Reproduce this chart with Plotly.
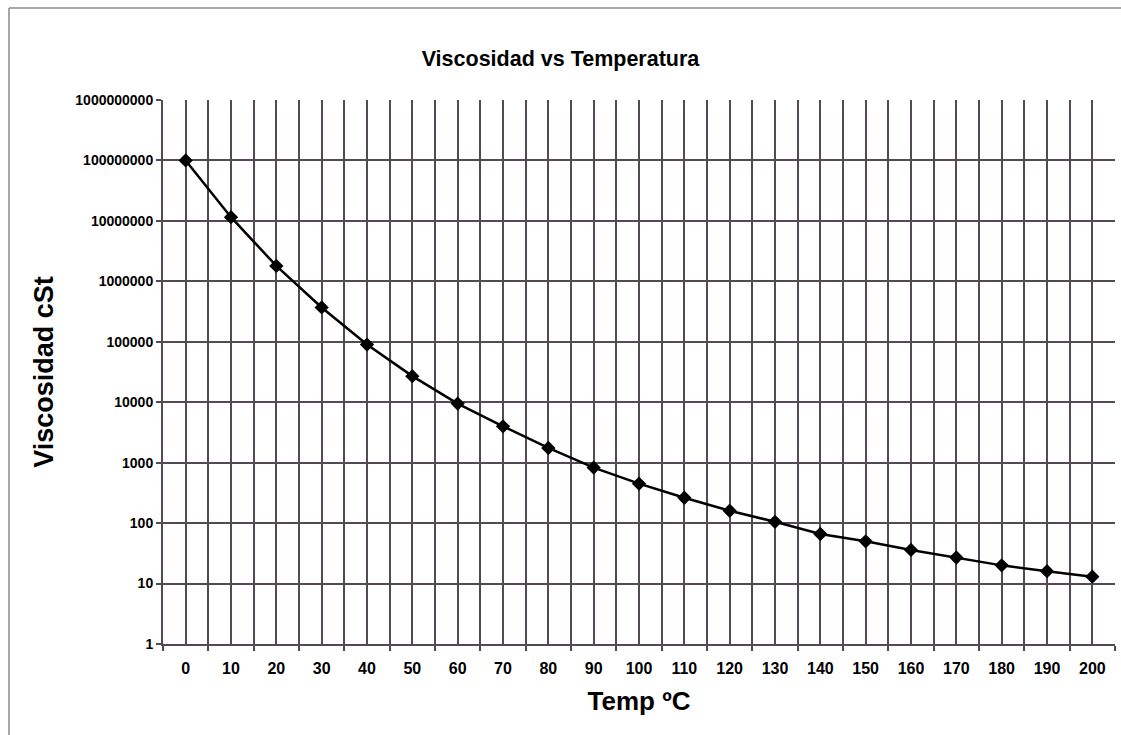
import plotly.graph_objects as go

temps = [0, 10, 20, 30, 40, 50, 60, 70, 80, 90, 100, 110, 120, 130, 140, 150, 160, 170, 180, 190, 200]
viscosity = [1.0e8, 1.15e7, 1.8e6, 3.7e5, 9.0e4, 2.7e4, 9.5e3, 4.0e3, 1.75e3, 830, 450, 263, 160, 105, 66, 50, 36, 27, 20, 16, 13]
y_tickvals = [1, 10, 100, 1000, 10000, 100000, 1000000, 10000000, 100000000, 1000000000]
y_ticktext = ["<b>%d</b>" % v for v in y_tickvals]
x_ticktext = ["<b>%d</b>" % t for t in temps]

grid = "#544a54"
font = "Liberation Sans, Arial, sans-serif"
frame = dict(color="#8a8a8a", width=1.5)

fig = go.Figure()
fig.add_trace(go.Scatter(
    x=temps, y=viscosity, mode="lines+markers",
    line=dict(color="black", width=2.5),
    marker=dict(symbol="diamond", size=11, color="black"),
    showlegend=False,
))

fig.update_layout(
    width=1121, height=735,
    paper_bgcolor="white", plot_bgcolor="white",
    margin=dict(l=163, r=6, t=100, b=91, autoexpand=False),
    title=dict(text="<b>Viscosidad vs Temperatura</b>", x=0.5, xref="container", xanchor="center",
               y=1 - 58 / 735, yref="container", yanchor="middle",
               font=dict(family=font, size=21.5, color="black")),
    font=dict(family=font, color="black"),
    xaxis=dict(
        range=[-5, 205], tickmode="array", tickvals=temps, ticktext=x_ticktext,
        ticks="", showgrid=True, gridcolor=grid, gridwidth=1.5,
        tickfont=dict(family=font, size=16, color="black"), ticklabelstandoff=9,
        showline=True, linecolor=grid, linewidth=2, mirror=False,
        zeroline=False, automargin=False,
        minor=dict(tick0=5, dtick=10, ticks="outside", ticklen=5, tickcolor=grid, tickwidth=1.5,
                   showgrid=True, gridcolor=grid, gridwidth=1.5),
        title=dict(text="<b>Temp ºC</b>", font=dict(family=font, size=26, color="black"), standoff=16),
    ),
    yaxis=dict(
        type="log", range=[0, 9], tickmode="array", tickvals=y_tickvals, ticktext=y_ticktext,
        ticks="outside", ticklen=5, tickcolor=grid, tickwidth=1.5,
        showgrid=True, gridcolor=grid, gridwidth=1.5,
        showline=True, linecolor=grid, linewidth=2,
        tickfont=dict(family=font, size=14, color="black"),
        title=dict(text="<b>Viscosidad cSt</b>", font=dict(family=font, size=27, color="black"), standoff=14),
        zeroline=False, automargin=False,
    ),
    shapes=[
        dict(type="line", xref="paper", yref="paper", x0=-0.1618, x1=-0.1618, y0=-0.5, y1=1.169, line=frame, layer="below"),
        dict(type="line", xref="paper", yref="paper", x0=-0.1618, x1=1.2, y0=1.169, y1=1.169, line=frame, layer="below"),
    ],
)

fig.write_html("out.html", config={"displayModeBar": False},
               post_script="document.body.style.margin='0';")
